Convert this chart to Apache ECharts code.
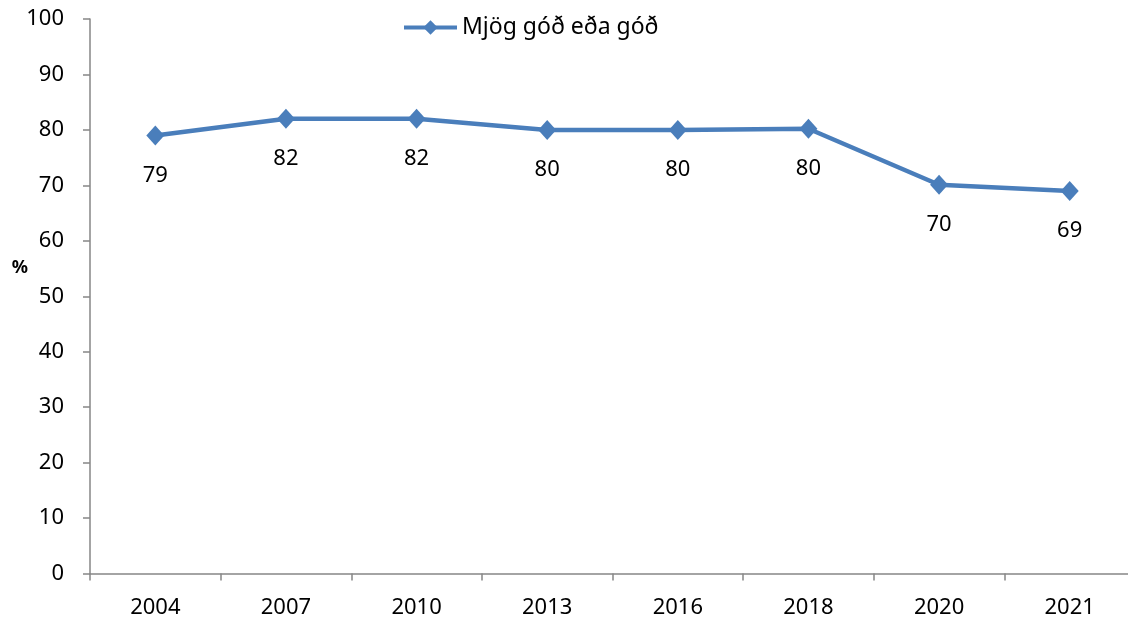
<!DOCTYPE html>
<html><head><meta charset="utf-8">
<script src="https://cdn.jsdelivr.net/npm/echarts@6/dist/echarts.min.js"></script>
<style>html,body{margin:0;padding:0;background:#fff}#c{width:1128px;height:619px}</style>
</head><body><div id="c"></div>
<script>
const categories = ['2004','2007','2010','2013','2016','2018','2020','2021'];
const seriesName = 'Mjög góð eða góð';
const values = [79, 82, 82, 80, 80, 80.2, 70.1, 69];
const yTicks = {min: 0, max: 100, interval: 10};
const font = 'Noto Sans, Open Sans, sans-serif';
const chart = echarts.init(document.getElementById('c'), null, {renderer: 'canvas'});
chart.setOption({
  animation: false,
  backgroundColor: '#fff',
  grid: {left: 90, width: 1045, top: 19, bottom: 45.5, containLabel: false, outerBoundsMode: 'none'},
  legend: {
    data: [{name: seriesName, itemStyle: {color: '#4a7ebb'}, lineStyle: {width: 4, color: '#4a7ebb'}}],
    top: 16, left: 402, padding: 0, itemWidth: 53, itemHeight: 18, itemGap: 5,
    textStyle: {fontFamily: font, fontSize: 23, color: '#000'}
  },
  xAxis: {
    type: 'category', data: categories, boundaryGap: true,
    axisLine: {lineStyle: {color: '#868686', width: 1.5}},
    axisTick: {show: true, length: 7, lineStyle: {color: '#868686', width: 1.5}},
    axisLabel: {fontFamily: font, fontSize: 22, color: '#000', margin: 23}
  },
  yAxis: {
    type: 'value', min: yTicks.min, max: yTicks.max, interval: yTicks.interval,
    name: '{p|%}', nameLocation: 'middle', nameRotate: 0, nameGap: 62, nameMoveOverlap: false,
    nameTextStyle: {fontFamily: font, fontSize: 18, fontWeight: 'bold', color: '#000',
      rich: {p: {fontFamily: font, fontSize: 18, fontWeight: 'bold', color: '#000', padding: [0, 0, 56, 0]}}},
    axisLine: {show: true, lineStyle: {color: '#868686', width: 1.5}},
    axisTick: {show: true, length: 7, lineStyle: {color: '#868686', width: 1.5}},
    splitLine: {show: false},
    axisLabel: {fontFamily: font, fontSize: 22, color: '#000', margin: 26}
  },
  series: [{
    name: seriesName, type: 'line', data: values,
    symbol: 'diamond', symbolSize: [18, 20],
    lineStyle: {color: '#4a7ebb', width: 4.5},
    itemStyle: {color: '#4a7ebb'},
    label: {show: true, position: 'bottom', distance: 19, fontFamily: font, fontSize: 22, color: '#000',
      formatter: p => Math.round(p.value)}
  }]
});
</script></body></html>
